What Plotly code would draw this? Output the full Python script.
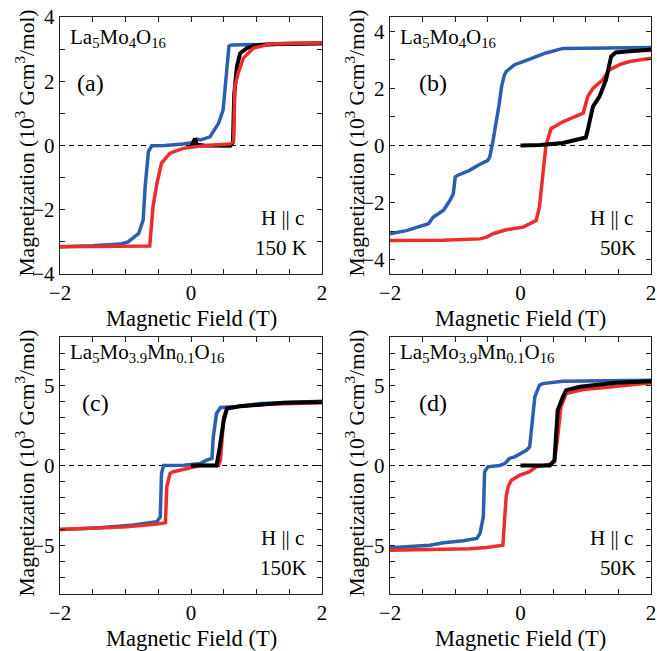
import plotly.graph_objects as go

# ---------------- data ----------------
# Panel (a): La5Mo4O16, 150 K
a_blue_x = [2.0, 1.2, 0.62, 0.58, 0.55, 0.49, 0.42, 0.32, 0.29, 0.14, 0.09, 0.01, -0.12, -0.4, -0.6, -0.65, -0.70, -0.73, -0.80, -0.96, -1.08, -1.5, -2.0]
a_blue_y = [3.17, 3.15, 3.13, 3.1, 2.4, 1.1, 0.69, 0.38, 0.27, 0.17, 0.2, 0.09, 0.05, 0.0, -0.01, -0.19, -1.28, -2.32, -2.74, -3.0, -3.07, -3.12, -3.15]
a_black_x = [0.0, 0.03, 0.06, 0.09, 0.2, 0.4, 0.6, 0.64, 0.66, 0.70, 0.75, 0.85, 0.98, 1.3, 2.0]
a_black_y = [0.0, 0.05, 0.22, 0.02, 0.0, -0.01, -0.01, 0.1, 1.6, 2.45, 2.87, 3.03, 3.12, 3.16, 3.18]
a_red_x = [-2.0, -1.0, -0.63, -0.58, -0.52, -0.45, -0.32, -0.12, 0.14, 0.4, 0.6, 0.65, 0.67, 0.72, 0.80, 0.95, 1.21, 1.6, 2.0]
a_red_y = [-3.15, -3.14, -3.13, -1.9, -1.18, -0.55, -0.24, -0.09, -0.02, 0.02, 0.05, 0.12, 1.83, 2.25, 2.72, 3.03, 3.16, 3.18, 3.19]

# Panel (b): La5Mo4O16, 50 K
b_blue_x = [2.0, 1.2, 0.65, 0.39, 0.24, 0.04, -0.09, -0.22, -0.25, -0.29, -0.33, -0.37, -0.42, -0.47, -0.5, -0.65, -0.78, -0.96, -1.0, -1.03, -1.08, -1.18, -1.34, -1.41, -1.59, -1.75, -2.0]
b_blue_y = [3.43, 3.42, 3.4, 3.24, 3.1, 2.94, 2.83, 2.59, 2.45, 2.06, 1.4, 0.77, 0.19, -0.4, -0.52, -0.69, -0.87, -1.04, -1.1, -1.69, -1.92, -2.27, -2.51, -2.74, -2.86, -2.98, -3.09]
b_black_x = [0.0, 0.3, 0.65, 0.85, 1.0, 1.03, 1.11, 1.21, 1.31, 1.39, 1.46, 1.67, 2.0]
b_black_y = [0.0, 0.02, 0.09, 0.19, 0.28, 0.54, 1.36, 1.71, 2.3, 3.12, 3.26, 3.3, 3.35]
b_red_x = [-2.0, -1.2, -0.62, -0.52, -0.42, -0.22, 0.04, 0.14, 0.24, 0.29, 0.34, 0.39, 0.47, 0.65, 0.8, 0.96, 1.03, 1.11, 1.26, 1.36, 1.52, 1.67, 2.0]
b_red_y = [-3.33, -3.32, -3.27, -3.21, -3.09, -2.95, -2.86, -2.74, -2.63, -2.16, -0.98, 0.01, 0.6, 0.83, 0.98, 1.13, 1.71, 2.0, 2.3, 2.65, 2.83, 2.94, 3.06]

# Panel (c): La5Mo3.9Mn0.1O16, 150 K
c_blue_x = [2.0, 1.06, 0.65, 0.45, 0.39, 0.34, 0.32, 0.24, 0.14, -0.11, -0.42, -0.45, -0.47, -0.52, -0.88, -1.39, -2.0]
c_blue_y = [4.0, 3.86, 3.65, 3.61, 3.24, 1.78, 0.44, 0.33, 0.12, 0.02, 0.0, -0.5, -3.2, -3.5, -3.71, -3.88, -3.98]
c_black_x = [0.0, 0.2, 0.39, 0.44, 0.5, 0.55, 0.75, 1.41, 2.0]
c_black_y = [0.0, 0.0, 0.0, 1.16, 2.82, 3.55, 3.69, 3.9, 3.96]
c_red_x = [-2.0, -0.98, -0.52, -0.39, -0.37, -0.32, -0.27, -0.06, 0.14, 0.42, 0.45, 0.5, 0.55, 0.65, 1.16, 2.0]
c_red_y = [-3.98, -3.82, -3.65, -3.57, -1.33, -0.5, -0.39, -0.19, 0.0, 0.0, 0.33, 3.03, 3.55, 3.65, 3.82, 3.9]

# Panel (d): La5Mo3.9Mn0.1O16, 50 K
d_blue_x = [2.0, 0.65, 0.34, 0.29, 0.22, 0.17, 0.14, 0.09, 0.01, -0.09, -0.17, -0.24, -0.32, -0.5, -0.55, -0.57, -0.62, -0.67, -0.88, -1.18, -1.39, -2.0]
d_blue_y = [5.31, 5.25, 5.1, 5.0, 4.27, 2.2, 1.16, 0.95, 0.75, 0.54, 0.44, 0.12, 0.0, -0.08, -0.39, -3.2, -4.23, -4.54, -4.68, -4.81, -4.96, -5.12]
d_black_x = [0.0, 0.2, 0.45, 0.52, 0.57, 0.65, 0.7, 0.91, 1.46, 2.0]
d_black_y = [0.0, 0.0, 0.0, 0.33, 3.44, 4.27, 4.69, 4.9, 5.15, 5.25]
d_red_x = [-2.0, -0.78, -0.52, -0.37, -0.27, -0.22, -0.19, -0.14, -0.01, 0.14, 0.24, 0.45, 0.52, 0.57, 0.62, 0.7, 0.96, 1.41, 2.0]
d_red_y = [-5.27, -5.19, -5.1, -5.0, -4.96, -1.95, -1.33, -0.91, -0.6, -0.39, -0.08, 0.08, 0.23, 1.78, 3.65, 4.48, 4.73, 4.9, 5.15]

# labels
panel_letters = ["(a)", "(b)", "(c)", "(d)"]
compounds = ["La<sub>5</sub>Mo<sub>4</sub>O<sub>16</sub>", "La<sub>5</sub>Mo<sub>4</sub>O<sub>16</sub>",
             "La<sub>5</sub>Mo<sub>3.9</sub>Mn<sub>0.1</sub>O<sub>16</sub>",
             "La<sub>5</sub>Mo<sub>3.9</sub>Mn<sub>0.1</sub>O<sub>16</sub>"]
temperatures = ["150 K", "50K", "150K", "50K"]
field_label = "H || c"
x_title = "Magnetic Field (T)"
y_title = "Magnetization (10<sup>3</sup> Gcm<sup>3</sup>/mol)"
x_ticks = [-2, 0, 2]
y_ticks_ab = [-4, -2, 0, 2, 4]
y_ticks_cd = [-5, 0, 5]
y_ranges = [[-4, 4], [-4.5, 4.5], [-8, 8], [-8, 8]]

# ---------------- figure ----------------
BLUE = "#2b5db0"
RED = "#ee2c2c"
BLACK = "#000000"
FONT = "Liberation Serif"

fig = go.Figure()

panels = [
    ("x", "y", [(a_blue_x, a_blue_y, BLUE), (a_black_x, a_black_y, BLACK), (a_red_x, a_red_y, RED)]),
    ("x2", "y2", [(b_blue_x, b_blue_y, BLUE), (b_red_x, b_red_y, RED), (b_black_x, b_black_y, BLACK)]),
    ("x3", "y3", [(c_blue_x, c_blue_y, BLUE), (c_red_x, c_red_y, RED), (c_black_x, c_black_y, BLACK)]),
    ("x4", "y4", [(d_blue_x, d_blue_y, BLUE), (d_red_x, d_red_y, RED), (d_black_x, d_black_y, BLACK)]),
]

for xa, ya, curves in panels:
    for xs, ys, col in curves:
        fig.add_trace(go.Scatter(x=xs, y=ys, xaxis=xa, yaxis=ya, mode="lines",
                                 line=dict(color=col, width=4 if col == BLACK else 3.5),
                                 showlegend=False, hoverinfo="skip"))

W, H = 657, 651
x_px = [[60, 322], [390, 651]]
y_px = [[17, 274], [337, 594]]
x_doms = [[a / W, b / W] for a, b in x_px]
y_doms = [[1 - b / H, 1 - a / H] for a, b in y_px]

axis_common = dict(showline=True, linecolor="#222", linewidth=1.4, mirror="ticks",
                   ticks="inside", ticklen=5, tickwidth=1.2, tickcolor="#222",
                   showgrid=False, zeroline=False, automargin=False,
                   ticklabeloverflow="allow",
                   tickfont=dict(family=FONT, size=21, color="black"))

layout = dict(width=W, height=H, margin=dict(l=0, r=0, t=0, b=0, autoexpand=False),
              paper_bgcolor="white", plot_bgcolor="white",
              font=dict(family=FONT, size=21, color="black"), showlegend=False)

for i in range(4):
    col = i % 2
    row = i // 2
    sx = "" if i == 0 else str(i + 1)
    xa = dict(axis_common, domain=x_doms[col], range=[-2, 2], tickvals=x_ticks,
              anchor="y" + sx,
              minor=dict(ticks="inside", ticklen=5, tickwidth=1.2, tickcolor="#222", dtick=0.5, tick0=0))
    yticks = y_ticks_ab if row == 0 else y_ticks_cd
    ya = dict(axis_common, domain=y_doms[row], range=y_ranges[i], tickvals=yticks,
              anchor="x" + sx,
              minor=dict(ticks="inside", ticklen=5, tickwidth=1.2, tickcolor="#222", dtick=1, tick0=0))
    layout["xaxis" + sx] = xa
    layout["yaxis" + sx] = ya

fig.update_layout(**layout)

letter_x = [0.118, 0.164, 0.134, 0.164]
comp_y = [0.918, 0.918, 0.938, 0.938]
annotations = []
shapes = []
for i in range(4):
    col = i % 2
    row = i // 2
    sx = "" if i == 0 else str(i + 1)
    xd = ("x" + sx) + " domain"
    yd = ("y" + sx) + " domain"
    annotations.append(dict(text=compounds[i], xref=xd, yref=yd, x=0.03, y=comp_y[i],
                            xanchor="left", yanchor="middle", showarrow=False,
                            font=dict(family=FONT, size=21)))
    annotations.append(dict(text=panel_letters[i], xref=xd, yref=yd, x=letter_x[i], y=0.745,
                            xanchor="center", yanchor="middle", showarrow=False,
                            font=dict(family=FONT, size=24)))
    annotations.append(dict(text=field_label, xref=xd, yref=yd, x=0.94, y=0.218,
                            xanchor="right", yanchor="middle", showarrow=False,
                            font=dict(family=FONT, size=21)))
    annotations.append(dict(text=temperatures[i], xref=xd, yref=yd, x=0.95, y=0.101,
                            xanchor="right", yanchor="middle", showarrow=False,
                            font=dict(family=FONT, size=21)))
    # axis titles
    xc = (x_px[col][0] + x_px[col][1]) / 2
    annotations.append(dict(text=x_title, xref="paper", yref="paper", x=xc / W,
                            y=1 - (y_px[row][1] + 44) / H, xanchor="center", yanchor="middle",
                            showarrow=False, font=dict(family=FONT, size=22.5)))
    yc = (y_px[row][0] + y_px[row][1]) / 2 - 2
    annotations.append(dict(text=y_title, xref="paper", yref="paper",
                            x=(x_px[col][0] - 35) / W, y=1 - yc / H, textangle=-90,
                            xanchor="center", yanchor="middle",
                            showarrow=False, font=dict(family=FONT, size=21.5)))
    shapes.append(dict(type="line", xref=xd, yref="y" + sx, x0=0, x1=1, y0=0, y1=0,
                       line=dict(color="black", width=1.2, dash="5px,4px"), layer="below"))

fig.update_layout(annotations=annotations, shapes=shapes)

fig.write_html("out.html", config={"displayModeBar": False},
               post_script="document.body.style.margin='0';document.body.style.overflow='hidden';")
